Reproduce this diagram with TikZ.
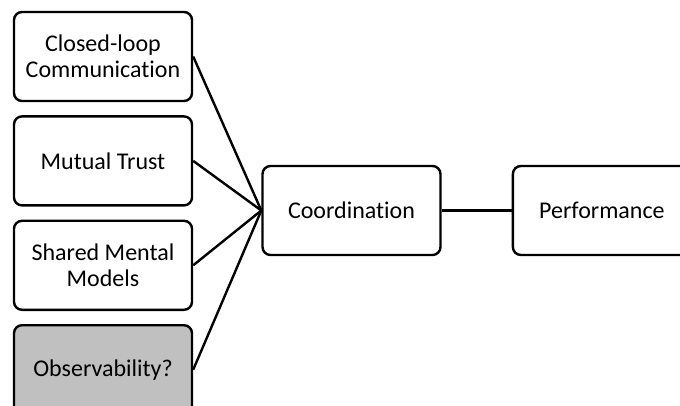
\documentclass[tikz,border=0pt]{standalone}
\usepackage{fontspec}
\setmainfont[Ligatures=NoCommon]{Carlito}
\usetikzlibrary{positioning}
\definecolor{obsgray}{RGB}{192,192,192}

\begin{document}
\begin{tikzpicture}[x=1pt,y=1pt,line width=2.4pt,
    factor/.style={draw, rounded corners=8pt, minimum width=178pt, minimum height=89pt,
        align=center, inner sep=2pt, font=\fontsize{24}{26}\selectfont},
    link/.style={line width=2.4pt}]

    \useasboundingbox (0,0) rectangle (680,-406);

    \node[factor] (closed) at (103,-56.5) {Closed-loop\\Communication};
    \node[factor] (trust) [below=13pt of closed] {Mutual Trust};
    \node[factor] (shared) [below=13pt of trust] {Shared Mental\\Models};
    \node[factor, fill=obsgray] (observ) [below=13pt of shared] {Observability?};

    \node[factor] (coord) at (351.5,-210.5) {Coordination};
    \node[factor] (perf) [right=70pt of coord] {Performance};

    \path[link]
    (closed.east) edge (coord.west)
    (trust.east) edge (coord.west)
    (shared.east) edge (coord.west)
    (observ.east) edge (coord.west)
    (coord) edge (perf)
    ;
\end{tikzpicture}
\end{document}
